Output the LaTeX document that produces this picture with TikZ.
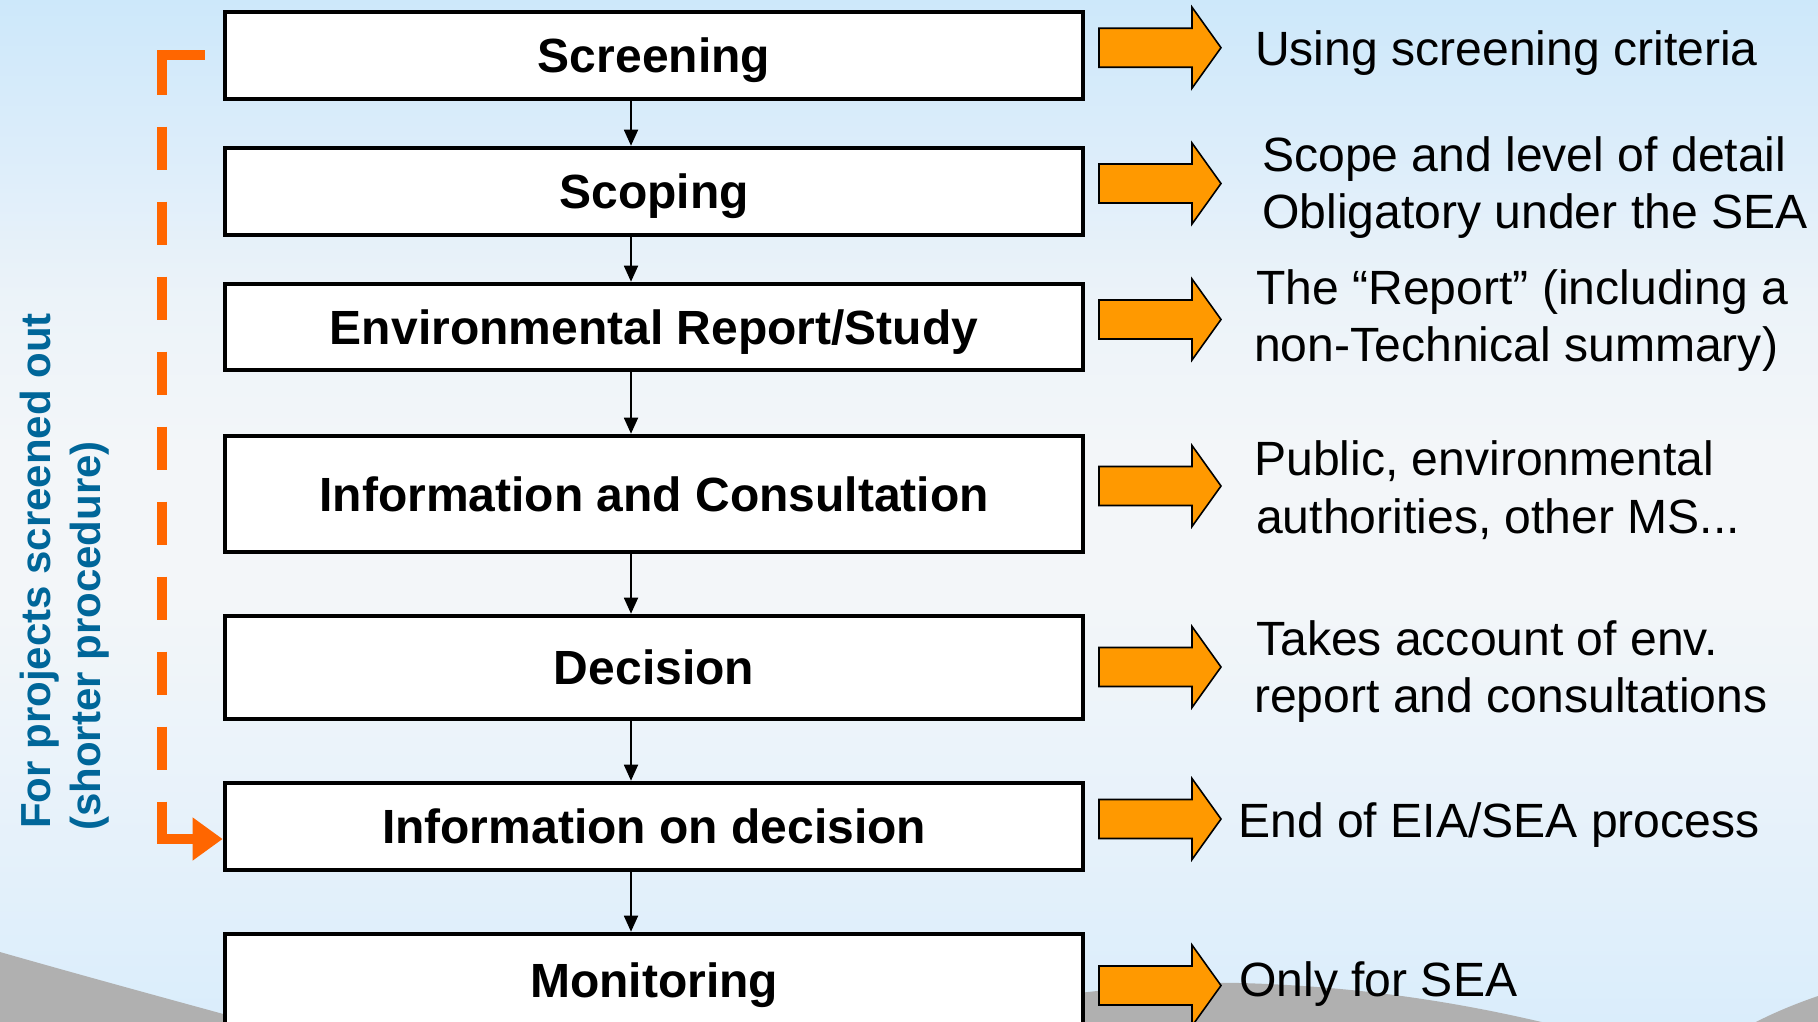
\documentclass[tikz,border=0pt]{standalone}
\usepackage{fontspec}
\setmainfont{Liberation Sans}
\usetikzlibrary{arrows.meta,calc}
\definecolor{bgA}{RGB}{205,232,250}
\definecolor{bgB}{RGB}{220,237,250}
\definecolor{bgC}{RGB}{236,243,249}
\definecolor{bgD}{RGB}{243,246,249}
\definecolor{bgE}{RGB}{232,242,250}
\definecolor{bgF}{RGB}{218,237,251}
\definecolor{hill}{RGB}{176,176,176}
\definecolor{orangeline}{RGB}{255,102,0}
\definecolor{orangefill}{RGB}{255,153,0}
\definecolor{teal}{RGB}{0,102,153}
\pgfdeclareverticalshading{bgshade}{100bp}{color(0bp)=(bgF); color(25bp)=(bgF); color(35.8bp)=(bgE); color(45.6bp)=(bgD); color(53bp)=(bgD); color(60.3bp)=(bgC); color(67.6bp)=(bgB); color(75bp)=(bgA); color(100bp)=(bgA)}
\newcommand\labelfont{\fontsize{48}{57}\selectfont\bfseries}
\newcommand\sidefont{\fontsize{48.1}{57}\selectfont}
\newcommand\vertfont{\fontsize{42}{50}\selectfont\bfseries}
\newcommand\blockarrow[1]{\draw[blockarrow] (1099,#1) ++(0,-19.5) -- ++(93,0) -- ++(0,-21) -- ++(29,40.5) -- ++(-29,40.5) -- ++(0,-21) -- ++(-93,0) -- cycle;}
\begin{document}
\begin{tikzpicture}[x=1pt,y=-1pt,
  box/.style={draw=black, line width=4.6pt, fill=white, minimum width=858pt, minimum height=#1, inner sep=0pt, font=\labelfont, text height=34.4pt, text depth=0pt},
  conn/.style={draw=black, line width=1.8pt, -{Triangle[length=16pt,width=14pt]}},
  blockarrow/.style={draw=black, line width=1.6pt, fill=orangefill, line join=miter},
  rtext/.style={font=\sidefont, inner sep=0pt, anchor=base west, text=black},
  vtext/.style={font=\vertfont, inner sep=0pt, anchor=base west, text=teal, rotate=90},
  screenpath/.style={draw=orangeline, line width=10pt, line join=miter,
    dash pattern=on 82pt off 32pt on 43pt off 32pt on 43pt off 32pt on 43pt off 32pt on 43pt off 32pt on 43pt off 32pt on 43pt off 32pt on 43pt off 32pt on 43pt off 32pt on 43pt off 32pt on 300pt,
    -{Triangle[length=30pt,width=41pt]}}
]
\useasboundingbox (0,0) rectangle (1818,1021);
\clip (0,0) rectangle (1818,1021);
% background
\shade[shading=bgshade] (0,0) rectangle (1818,1021);
% grey hills
\fill[hill] (0,952) .. controls (70,972) and (150,994) .. (260,1024) -- (0,1024) -- cycle;
\fill[hill] (1070,994) .. controls (1140,986) and (1190,982) .. (1240,983) .. controls (1350,986) and (1450,1000) .. (1550,1024) -- (1070,1024) -- cycle;
\fill[hill] (1752,1024) .. controls (1775,1012) and (1795,1004) .. (1818,996) -- (1818,1024) -- cycle;

% boxes
\node[box=87pt]  (b1) at (654,55.5)  {Screening};
\node[box=87pt]  (b2) at (654,191.5) {Scoping};
\node[box=86pt]  (b3) at (654,327)   {Environmental Report/Study};
\node[box=116pt] (b4) at (654,494)   {Information and Consultation};
\node[box=103pt] (b5) at (654,667.5) {Decision};
\node[box=87pt]  (b6) at (654,826.5) {Information on decision};
\node[box=92pt]  (b7) at (654,980)   {Monitoring};

% connectors
\coordinate (cx) at (631,0);
\draw[conn] (b1.south -| cx) -- (b2.north -| cx);
\draw[conn] (b2.south -| cx) -- (b3.north -| cx);
\draw[conn] (b3.south -| cx) -- (b4.north -| cx);
\draw[conn] (b4.south -| cx) -- (b5.north -| cx);
\draw[conn] (b5.south -| cx) -- (b6.north -| cx);
\draw[conn] (b6.south -| cx) -- (b7.north -| cx);

% orange block arrows
\blockarrow{47.7}
\blockarrow{183.5}
\blockarrow{319.5}
\blockarrow{486}
\blockarrow{667}
\blockarrow{819}
\blockarrow{985.5}

% side texts
\node[rtext] (t1)  at (1255,65.7)  {Using screening criteria};
\node[rtext] (t2a) at (1262,171.7) {Scope and level of detail};
\node[rtext] (t2b) at (1262,228.3) {Obligatory under the SEA};
\node[rtext] (t3a) at (1256,304.3) {The “Report” (including a};
\node[rtext] (t3b) at (1254,361.7) {non-Technical summary)};
\node[rtext] (t4a) at (1254,475)   {Public, environmental};
\node[rtext] (t4b) at (1256,533)   {authorities, other MS...};
\node[rtext] (t5a) at (1256,655)   {Takes account of env.};
\node[rtext] (t5b) at (1254,712)   {report and consultations};
\node[rtext] (t6)  at (1238,837)   {End of EIA/SEA process};
\node[rtext] (t7)  at (1239,996)   {Only for SEA};

% vertical text
\node[vtext] (v1) at (50,829)  {For projects screened out};
\node[vtext] (v2) at (100,831) {(shorter procedure)};

% screened-out dashed connector
\coordinate (oStart) at (204.5,55);
\coordinate (oCorner) at (162,839);
\draw[screenpath] (oStart) -| (oCorner) -- (oCorner -| b6.west);
\end{tikzpicture}
\end{document}
